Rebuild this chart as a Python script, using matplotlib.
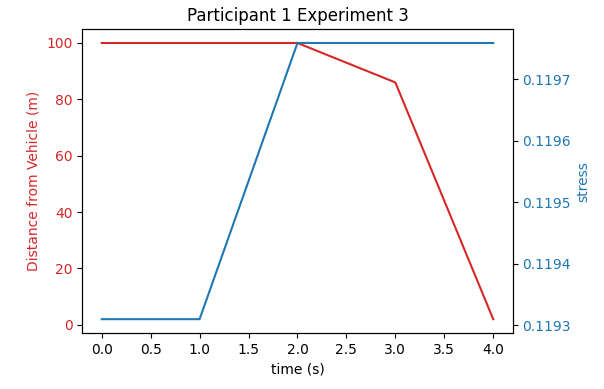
import matplotlib
matplotlib.use("Agg")
import matplotlib.pyplot as plt

# Dados
tempo = [0, 1, 2, 3, 4]
distancia = [100, 100, 100, 86, 2]
stress = [0.11931, 0.11931, 0.119759, 0.119759, 0.119759]

fig, ax1 = plt.subplots(figsize=(6.04, 3.89), dpi=100)
fig.subplots_adjust(left=0.136, right=0.849, top=0.925, bottom=0.144)

cor1 = 'tab:red'
ax1.set_xlabel('time (s)')
ax1.set_ylabel('Distance from Vehicle (m)', color=cor1)
ax1.plot(tempo, distancia, color=cor1)
ax1.tick_params(axis='y', labelcolor=cor1)

ax2 = ax1.twinx()
cor2 = 'tab:blue'
ax2.set_ylabel('stress', color=cor2)
ax2.plot(tempo, stress, color=cor2)
ax2.tick_params(axis='y', labelcolor=cor2)
ax2.ticklabel_format(useOffset=False)

plt.title('Participant 1 Experiment 3')
plt.savefig("out.png", dpi=100)
